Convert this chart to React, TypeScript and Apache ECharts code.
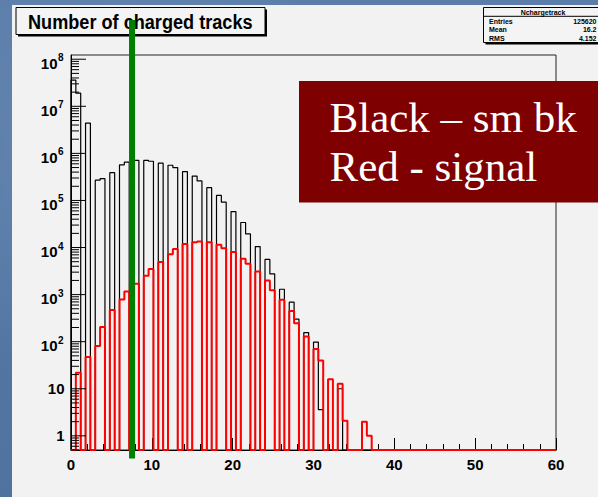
import React, { useEffect, useRef } from "react";
import * as echarts from "echarts";

// Number of charged tracks (n = 0, 1, 2, ...) -> entries
const BLACK_SM_BK = [
  3.6e7, 1.9e7, 4.4e6, 2.7e5, 2.9e5, 3.9e5, 5.7e5, 6.5e5, 7.1e5, 7.1e5,
  6.8e5, 6.2e5, 5.6e5, 5.0e5, 4.1e5, 3.3e5, 2.6e5, 1.87e5, 1.28e5, 9.2e4,
  5.8e4, 3.4e4, 1.95e4, 1.05e4, 5600, 2750, 1300, 690, 300, 156,
  98, 3.6, 0, 10,
];
const RED_SIGNAL = [
  0, 22, 47, 81, 206, 473, 783, 1160, 1710, 2500,
  3500, 4900, 7200, 9300, 11900, 12900, 13500, 12900, 11500, 9700,
  8000, 5800, 4500, 3100, 2000, 1240, 780, 451, 246, 129,
  70, 40, 16, 12.7, 2.1, 0, 2.0, 1.0,
];

// histogram binning (ROOT style: 100 bins on [0, 60])
const X_MIN = 0;
const X_MAX = 60;
const N_BINS = 100;
const BIN_WIDTH = (X_MAX - X_MIN) / N_BINS;
const X_INTERVAL = 10;

const Y_MIN = 0.5;
const Y_MAX = 1.23e8;
const Y_DECADES = [0, 1, 2, 3, 4, 5, 6, 7, 8];
const Y_LABEL_BASE = ["1", "10", "10", "10", "10", "10", "10", "10", "10"];
const Y_LABEL_EXP = ["", "", "2", "3", "4", "5", "6", "7", "8"];

const CUT_X = [7.55];

const TITLE = "Number of charged tracks";
const STATS_NAME = "Nchargetrack";
const STATS_KEYS = ["Entries", "Mean", "RMS"];
const STATS_VALUES = ["125620", "16.2", "4.152"];
const NOTE_LINES = ["Black \u2013 sm bk", "Red - signal"];

const SANS = '"Liberation Sans", Arial, Helvetica, sans-serif';
const SERIF = '"Liberation Serif", "Times New Roman", serif';

function toBins(counts: number[]): number[] {
  const bins = new Array(N_BINS).fill(0);
  counts.forEach((c, n) => {
    const b = Math.floor((n - X_MIN) / BIN_WIDTH + 1e-6);
    if (b >= 0 && b < N_BINS) bins[b] += c;
  });
  return bins;
}

function stepData(bins: number[]): number[][] {
  const pts: number[][] = [[X_MIN, Y_MIN]];
  bins.forEach((v, i) => {
    pts.push([X_MIN + i * BIN_WIDTH, v > Y_MIN ? v : Y_MIN]);
  });
  pts.push([X_MAX, Y_MIN]);
  return pts;
}

function yTickData(): number[][] {
  const out: number[][] = [];
  for (let k = -1; k <= 8; k++) {
    for (let m = 1; m <= 9; m++) {
      const v = m * Math.pow(10, k);
      if (v >= Y_MIN && v <= Y_MAX) out.push([X_MIN, v, m === 1 ? 1 : 0, k]);
    }
  }
  return out;
}

export default function App() {
  const ref = useRef<HTMLDivElement>(null);

  useEffect(() => {
    if (!ref.current) return;
    const chart = echarts.init(ref.current, undefined, { renderer: "svg" });

    const blackBins = toBins(BLACK_SM_BK);
    const redBins = toBins(RED_SIGNAL);

    const option: any = {
      animation: false,
      backgroundColor: "transparent",
      grid: {
        left: 71,
        top: 55,
        width: 485,
        height: 395,
        show: true,
        borderColor: "#222",
        borderWidth: 1,
        backgroundColor: "transparent",
      },
      xAxis: {
        type: "value",
        min: X_MIN,
        max: X_MAX,
        interval: X_INTERVAL,
        axisLine: { show: true, onZero: false, lineStyle: { color: "#000", width: 1 } },
        axisTick: { show: true, inside: true, length: 12, lineStyle: { color: "#000", width: 1 } },
        minorTick: { show: true, splitNumber: 5, length: 6, lineStyle: { color: "#000", width: 1 } },
        axisLabel: {
          margin: 7,
          color: "#000",
          fontSize: 15,
          fontWeight: "bold",
          fontFamily: SANS,
        },
        splitLine: { show: false },
      },
      yAxis: {
        type: "log",
        logBase: 10,
        min: Y_MIN,
        max: Y_MAX,
        axisLine: { show: true, lineStyle: { color: "#000", width: 1 } },
        axisTick: { show: false },
        axisLabel: { show: false },
        splitLine: { show: false },
      },
      series: [
        {
          type: "line",
          name: "sm bk",
          step: "end",
          showSymbol: false,
          symbol: "none",
          data: stepData(blackBins),
          lineStyle: { color: "#000", width: 1.2 },
          z: 3,
        },
        {
          type: "line",
          name: "signal",
          step: "end",
          showSymbol: false,
          symbol: "none",
          data: stepData(redBins),
          lineStyle: { color: "#ff0000", width: 2 },
          z: 4,
        },
        {
          type: "custom",
          name: "yticks",
          data: yTickData(),
          z: 5,
          renderItem: (params: any, api: any) => {
            const v = api.value(1);
            const major = api.value(2) === 1;
            const k = api.value(3);
            const p = api.coord([X_MIN, v]);
            const children: any[] = [
              {
                type: "line",
                shape: { x1: p[0], y1: p[1], x2: p[0] + (major ? 15 : 8), y2: p[1] },
                style: { stroke: "#000", lineWidth: 1 },
              },
            ];
            if (major) {
              const idx = Y_DECADES.indexOf(k);
              const base = Y_LABEL_BASE[idx];
              const exp = Y_LABEL_EXP[idx];
              if (exp) {
                children.push({
                  type: "text",
                  x: p[0] - 13.5,
                  y: p[1] + 4,
                  style: {
                    text: base,
                    align: "right",
                    verticalAlign: "middle",
                    fill: "#000",
                    fontSize: 15,
                    fontWeight: "bold",
                    fontFamily: SANS,
                  },
                });
                children.push({
                  type: "text",
                  x: p[0] - 13,
                  y: p[1] - 1.5,
                  style: {
                    text: exp,
                    align: "left",
                    verticalAlign: "middle",
                    fill: "#000",
                    fontSize: 10,
                    fontWeight: "bold",
                    fontFamily: SANS,
                  },
                });
              } else {
                children.push({
                  type: "text",
                  x: p[0] - 6.5,
                  y: p[1],
                  style: {
                    text: base,
                    align: "right",
                    verticalAlign: "middle",
                    fill: "#000",
                    fontSize: 15,
                    fontWeight: "bold",
                    fontFamily: SANS,
                  },
                });
              }
            }
            return { type: "group", children };
          },
        },
        {
          type: "custom",
          name: "cut",
          data: CUT_X.map((x) => [x, Y_MAX]),
          z: 20,
          renderItem: (params: any, api: any) => {
            const top = api.coord([api.value(0), Y_MAX]);
            const bot = api.coord([api.value(0), Y_MIN]);
            return {
              type: "line",
              shape: { x1: top[0], y1: top[1] - 35, x2: top[0], y2: bot[1] + 8.5 },
              style: { stroke: "#008000", lineWidth: 6 },
            };
          },
        },
      ],
      graphic: [
        // title pave
        { type: "rect", z: 10, shape: { x: 18, y: 9.5, width: 249, height: 27 }, style: { fill: "#000" } },
        {
          type: "rect",
          z: 11,
          shape: { x: 16, y: 7.5, width: 249, height: 27 },
          style: { fill: "#f4f4f4", stroke: "#000", lineWidth: 1 },
        },
        {
          type: "text",
          z: 12,
          x: 28,
          y: 22,
          scaleX: 0.93,
          style: {
            text: TITLE,
            fill: "#000",
            fontSize: 19.5,
            fontWeight: "bold",
            fontFamily: SANS,
            align: "left",
            verticalAlign: "middle",
          },
        },
        // stats box
        { type: "rect", z: 10, shape: { x: 485.5, y: 9.5, width: 120, height: 35 }, style: { fill: "#000" } },
        {
          type: "rect",
          z: 11,
          shape: { x: 483.5, y: 7.5, width: 120, height: 35 },
          style: { fill: "#f4f4f4", stroke: "#000", lineWidth: 1 },
        },
        {
          type: "line",
          z: 12,
          shape: { x1: 483.5, y1: 16.3, x2: 600, y2: 16.3 },
          style: { stroke: "#000", lineWidth: 1 },
        },
        {
          type: "text",
          z: 12,
          x: 543,
          y: 12,
          style: {
            text: STATS_NAME,
            fill: "#000",
            fontSize: 7,
            fontWeight: "bold",
            fontFamily: SANS,
            align: "center",
            verticalAlign: "middle",
          },
        },
        ...STATS_KEYS.map((k, i) => ({
          type: "text",
          z: 12,
          x: 489,
          y: 21 + i * 8.6,
          style: {
            text: k,
            fill: "#000",
            fontSize: 7,
            fontWeight: "bold",
            fontFamily: SANS,
            align: "left",
            verticalAlign: "middle",
          },
        })),
        ...STATS_VALUES.map((v, i) => ({
          type: "text",
          z: 12,
          x: 596.5,
          y: 21 + i * 8.6,
          style: {
            text: v,
            fill: "#000",
            fontSize: 7,
            fontWeight: "bold",
            fontFamily: SANS,
            align: "right",
            verticalAlign: "middle",
          },
        })),
        // legend note box
        {
          type: "rect",
          z: 13,
          shape: { x: 299, y: 81, width: 305, height: 121.5 },
          style: { fill: "#7f0000" },
        },
        ...NOTE_LINES.map((t, i) => ({
          type: "text",
          z: 14,
          x: 329.5,
          y: 117 + i * 49.4,
          style: {
            text: t,
            fill: "#ffffff",
            fontSize: 43,
            fontFamily: SERIF,
            align: "left",
            verticalAlign: "middle",
          },
        })),
      ],
    };

    chart.setOption(option);
    return () => chart.dispose();
  }, []);

  return (
    <div
      style={{
        position: "fixed",
        left: 0,
        top: 0,
        width: 598,
        height: 497,
        overflow: "hidden",
        background:
          "radial-gradient(circle at 20% 30%, #6688b2 0%, rgba(90,124,168,0) 40%), linear-gradient(180deg, #5b7da9 0%, #4f729f 100%)",
      }}
    >
      <div
        style={{
          position: "absolute",
          left: 12,
          top: 5,
          width: 586,
          height: 492,
          background: "#f2f2f2",
        }}
      />
      <div ref={ref} style={{ position: "absolute", left: 0, top: 0, width: 598, height: 497 }} />
    </div>
  );
}
